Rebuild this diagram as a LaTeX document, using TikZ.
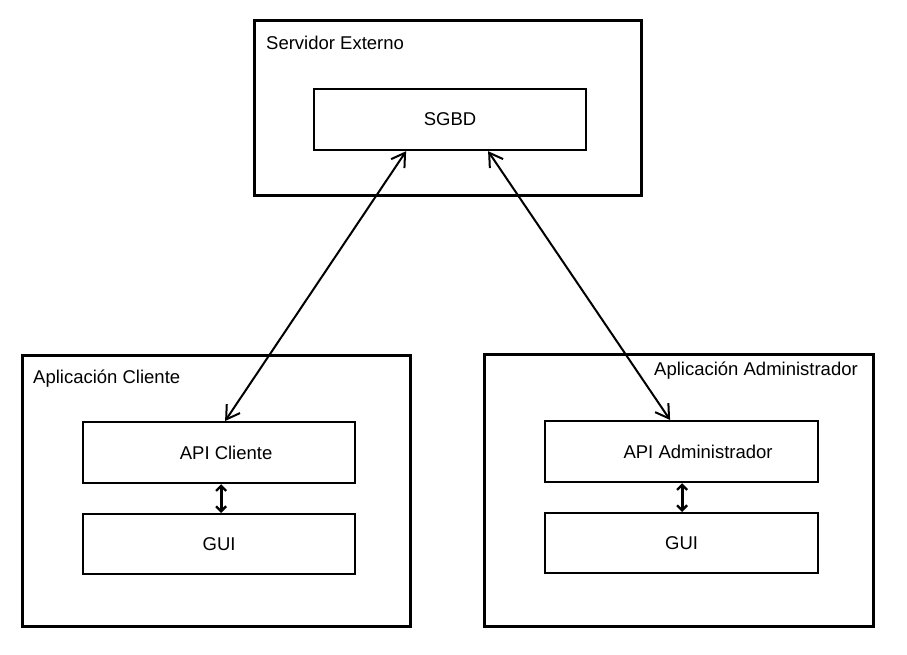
\documentclass[tikz,border=0pt]{standalone}
\usepackage{fontspec}
\setmainfont{Liberation Sans}
\usetikzlibrary{arrows.meta}
\begin{document}
\begin{tikzpicture}[x=1pt,y=-1pt,
  outerbox/.style={draw,line width=2.6pt,inner sep=0pt,anchor=north west},
  innerbox/.style={draw,line width=2.2pt,inner sep=0pt,anchor=north west,font=\fontsize{18.5}{20}\selectfont},
  lbl/.style={inner sep=0pt,anchor=west,font=\fontsize{18.5}{20}\selectfont},
  bigarrow/.style={line width=2pt,{Straight Barb[length=13pt,width=16pt,line width=2pt]}-{Straight Barb[length=13pt,width=16pt,line width=2pt]}},
  smallarrow/.style={line width=2.8pt,{Straight Barb[length=5pt,width=10pt,line width=2.4pt]}-{Straight Barb[length=5pt,width=10pt,line width=2.4pt]}}]
\useasboundingbox (0,0) rectangle (907,655);
% boxes
\node[outerbox,minimum width=387pt,minimum height=175pt] (srv) at (253,19) {};
\node[innerbox,minimum width=272pt,minimum height=61pt] (sgbd) at (313,88) {SGBD};
\node[outerbox,minimum width=388pt,minimum height=271pt] (cli) at (21,354) {};
\node[innerbox,minimum width=272pt,minimum height=61pt] (apic) at (82,421) {\hspace{14pt}API Cliente};
\node[innerbox,minimum width=272pt,minimum height=60pt] (guic) at (82,513) {GUI};
\node[outerbox,minimum width=389pt,minimum height=272pt] (adm) at (483,353) {};
\node[innerbox,minimum width=273pt,minimum height=61pt] (apia) at (544,420) {\hspace{33pt}API Administrador};
\node[innerbox,minimum width=273pt,minimum height=60pt] (guia) at (544,512) {GUI};
% labels
\node[lbl] (lsrv) at (266,43) {Servidor Externo};
\node[lbl] (lcli) at (33,379) {Aplicación Cliente};
\node[lbl] (ladm) at (654,371) {Aplicación Administrador};
% connectors
\draw[bigarrow] ([xshift=-44pt]sgbd.south) -- ([xshift=6pt]apic.north);
\draw[bigarrow] ([xshift=38pt]sgbd.south) -- ([xshift=-11.5pt]apia.north);
\draw[smallarrow] ([xshift=2pt]apic.south) -- ([xshift=2pt]guic.north);
\draw[smallarrow] ([xshift=0.5pt]apia.south) -- ([xshift=0.5pt]guia.north);
\end{tikzpicture}
\end{document}
